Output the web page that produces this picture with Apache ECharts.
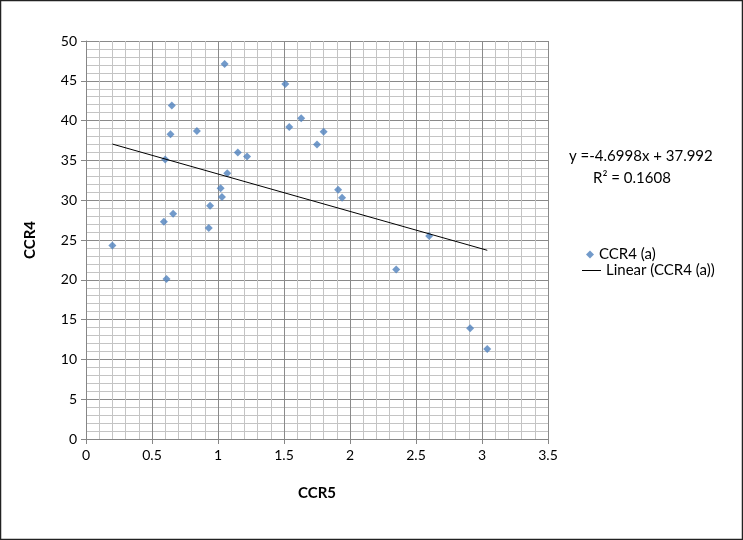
<!DOCTYPE html>
<html><head><meta charset="utf-8">
<script src="https://cdn.jsdelivr.net/npm/echarts@6/dist/echarts.min.js"></script>
<style>html,body{margin:0;padding:0;background:#fff}#c{width:743px;height:540px}</style>
</head><body><div id="c"></div>
<script>
const ccr5 = [1.05,1.51,0.65,1.63,1.54,0.84,0.64,1.80,1.75,1.15,1.22,0.60,1.07,1.02,1.03,0.94,0.66,0.59,0.93,0.20,0.61,1.91,1.94,2.60,2.35,2.91,3.04];
const ccr4 = [47.1,44.6,41.9,40.3,39.2,38.7,38.3,38.6,37.0,36.0,35.5,35.1,33.4,31.5,30.4,29.3,28.3,27.3,26.5,24.3,20.1,31.3,30.3,25.5,21.3,13.9,11.3];
const trendCoef = [-4.6998, 37.992];   // slope, intercept (as shown on chart)
const xTicks = [0, 3.5, 0.5];
const yTicks = [0, 50, 5];
const eqText = ['y =-4.6998x + 37.992', 'R\u00b2 = 0.1608'];
const seriesNames = ['CCR4 (a)', 'Linear (CCR4 (a))'];

const pts = ccr5.map((x,i)=>[x, ccr4[i]]);
const xmin = Math.min(...ccr5), xmax = Math.max(...ccr5);
const trend = [[xmin, trendCoef[0]*xmin+trendCoef[1]],[xmax, trendCoef[0]*xmax+trendCoef[1]]];
const FONT = 'Lato, "Liberation Sans", sans-serif';

const chart = echarts.init(document.getElementById('c'));
chart.setOption({
  animation:false,
  textStyle:{fontFamily:FONT},
  grid:{left:86,right:195,top:41,bottom:101,containLabel:false},
  xAxis:{type:'value',min:xTicks[0],max:xTicks[1],interval:xTicks[2],
    name:'CCR5',nameLocation:'middle',nameGap:47,
    nameTextStyle:{fontWeight:'bold',fontSize:15,color:'#000',fontFamily:FONT},
    axisLine:{show:true,lineStyle:{color:'#868686',width:1}},
    axisTick:{show:true,length:5,lineStyle:{color:'#868686'}},
    axisLabel:{color:'#000',fontSize:14,margin:9,fontFamily:FONT},
    splitLine:{show:true,lineStyle:{color:'#8a8a8a',width:1}},
    minorTick:{show:false,splitNumber:5},
    minorSplitLine:{show:true,lineStyle:{color:'#c4c4c4',width:1}}
  },
  yAxis:{type:'value',min:yTicks[0],max:yTicks[1],interval:yTicks[2],
    name:'CCR4',nameLocation:'middle',nameGap:48,nameRotate:90,
    nameTextStyle:{fontWeight:'bold',fontSize:15,color:'#000',fontFamily:FONT},
    axisLine:{show:true,lineStyle:{color:'#868686',width:1}},
    axisTick:{show:true,length:5,lineStyle:{color:'#868686'}},
    axisLabel:{color:'#000',fontSize:14,margin:9,fontFamily:FONT},
    splitLine:{show:true,lineStyle:{color:'#8a8a8a',width:1}},
    minorTick:{show:false,splitNumber:5},
    minorSplitLine:{show:true,lineStyle:{color:'#c4c4c4',width:1}}
  },
  legend:[
    {data:[{name:seriesNames[0],icon:'diamond'}],orient:'vertical',left:581,top:242,
     itemWidth:8,itemHeight:8,itemGap:4,textStyle:{fontSize:15,color:'#000',fontFamily:FONT},selectedMode:false},
    {data:[{name:seriesNames[1],icon:'rect'}],orient:'vertical',left:577,top:258,
     itemWidth:19,itemHeight:1,itemGap:2,textStyle:{fontSize:15,color:'#000',fontFamily:FONT},selectedMode:false}
  ],
  graphic:[
    {type:'rect',shape:{x:0.5,y:0.5,width:742,height:539},style:{fill:'none',stroke:'#222',lineWidth:1.5},silent:true},
    {type:'text',left:569,top:149,style:{text:eqText[0],fontSize:15,fill:'#000',fontFamily:FONT}},
    {type:'text',left:593,top:171,style:{text:eqText[1],fontSize:15,fill:'#000',fontFamily:FONT}}
  ],
  series:[
    {name:seriesNames[0],type:'scatter',data:pts,symbol:'diamond',symbolSize:8,
     itemStyle:{color:'#4F81BD'}},
    {name:seriesNames[1],type:'line',data:trend,symbol:'none',
     lineStyle:{color:'#000',width:1},itemStyle:{color:'#000'}}
  ]
});
</script></body></html>
